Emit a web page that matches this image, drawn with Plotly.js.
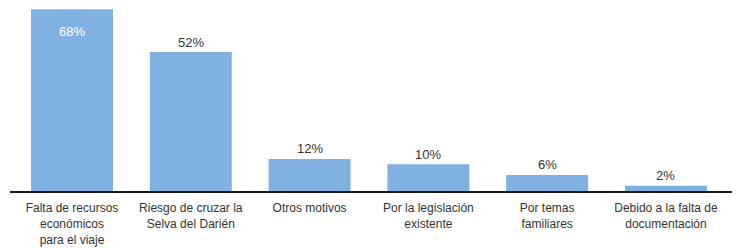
<!DOCTYPE html>
<html>
<head>
<meta charset="utf-8">
<script src="https://cdn.plot.ly/plotly-3.0.1.min.js"></script>
<style>
html,body{margin:0;padding:0;background:#fff;}
#chart{width:742px;height:248px;}
</style>
</head>
<body>
<div id="chart"></div>
<script>
var categories = [
  "Falta de recursos<br>económicos<br>para el viaje",
  "Riesgo de cruzar la<br>Selva del Darién",
  "Otros motivos",
  "Por la legislación<br>existente",
  "Por temas<br>familiares",
  "Debido a la falta de<br>documentación"
];
var values = [68, 52, 12, 10, 6, 2];
var labels = ["68%", "52%", "12%", "10%", "6%", "2%"];

var FONT = "Liberation Sans, Arial, sans-serif";

var annotations = values.map(function (v, i) {
  var inside = i === 0;
  return {
    x: categories[i],
    y: v,
    xref: "x",
    yref: "y",
    text: labels[i],
    showarrow: false,
    yanchor: "middle",
    yshift: inside ? -22 : 10,
    font: {family: FONT, size: 13, color: inside ? "#ffffff" : "#333333"}
  };
});

var trace = {
  type: "bar",
  x: categories,
  y: values,
  marker: {color: "#80b1e0", line: {width: 0}},
  hoverinfo: "none"
};

var layout = {
  width: 742,
  height: 248,
  margin: {l: 10, r: 10, t: 4, b: 57, pad: 0},
  paper_bgcolor: "#ffffff",
  plot_bgcolor: "#ffffff",
  bargap: 0.31,
  showlegend: false,
  font: {family: FONT, size: 12, color: "#333333"},
  xaxis: {
    type: "category",
    range: [-0.522, 5.556],
    showline: true,
    linecolor: "#1a1a1a",
    linewidth: 2,
    ticks: "",
    ticklabelstandoff: 5,
    showgrid: false,
    zeroline: false,
    tickfont: {family: FONT, size: 12, color: "#333333"},
    fixedrange: true
  },
  yaxis: {
    range: [0, 70],
    visible: false,
    showgrid: false,
    zeroline: false,
    fixedrange: true
  },
  annotations: annotations
};

Plotly.newPlot("chart", [trace], layout, {displayModeBar: false, staticPlot: true});
</script>
</body>
</html>
